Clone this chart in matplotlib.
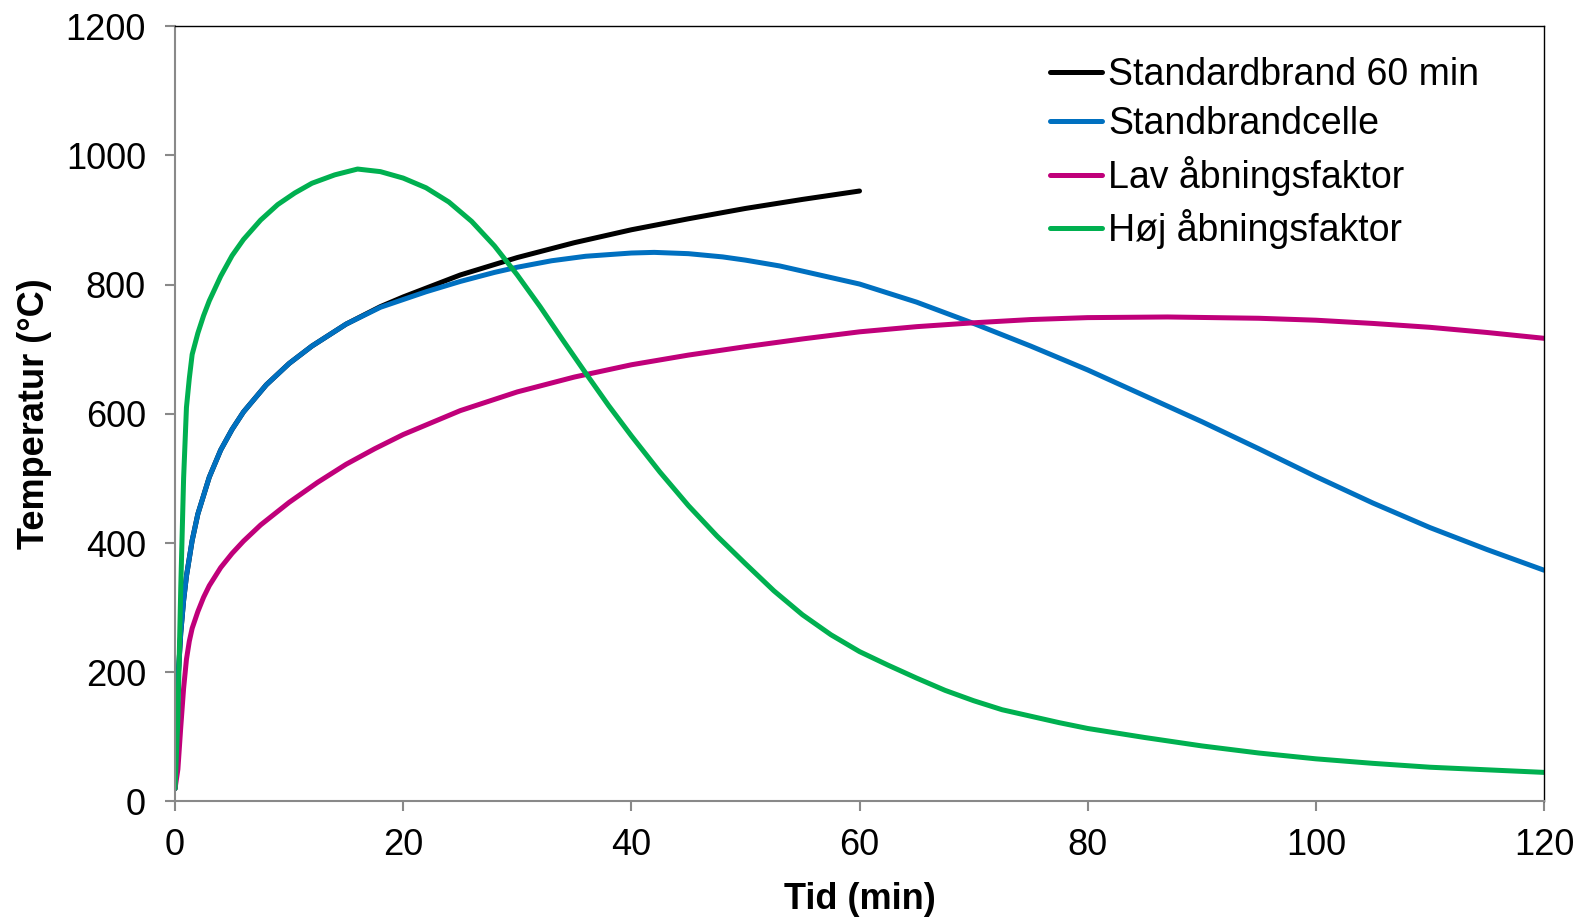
import matplotlib
matplotlib.use("Agg")
import matplotlib.pyplot as plt

plt.rcParams['font.family'] = ['Liberation Sans', 'DejaVu Sans']

# Standardbrand (ISO 834)
t_std = [0, 0.25, 0.5, 0.75, 1, 1.5, 2, 3, 4, 5, 6, 8, 10, 12, 15, 18, 20,
         25, 30, 35, 40, 45, 50, 55, 60]
T_std = [20, 185, 261, 311, 349, 404, 445, 502, 544, 576, 603, 645, 678, 705,
         739, 766, 781, 815, 842, 865, 885, 902, 918, 932, 945]

# Standardbrandcelle
t_cell = [0, 0.25, 0.5, 0.75, 1, 1.5, 2, 3, 4, 5, 6, 8, 10, 12, 15, 18, 20,
          22, 25, 28, 30, 33, 36, 40, 42, 45, 48, 50, 53, 56, 60, 65, 70, 75,
          80, 85, 90, 95, 100, 105, 110, 115, 120]
T_cell = [20, 185, 261, 311, 349, 404, 445, 502, 544, 576, 603, 645, 678, 705,
          739, 765, 777, 789, 805, 819, 827, 837, 844, 849, 850, 848, 843, 838,
          829, 817, 801, 773, 740, 705, 668, 628, 588, 546, 503, 462, 424, 390,
          358]

# Lav åbningsfaktor
t_low = [0, 0.25, 0.5, 0.75, 1, 1.25, 1.5, 2, 2.5, 3, 4, 5, 6, 7.5, 10, 12.5,
         15, 17.5, 20, 25, 30, 35, 40, 45, 50, 55, 60, 65, 70, 75, 80, 87, 95,
         100, 105, 110, 115, 120]
T_low = [20, 50, 115, 175, 220, 248, 268, 294, 316, 334, 362, 384, 403, 428,
         463, 494, 522, 546, 568, 605, 634, 657, 676, 691, 704, 716, 727, 735,
         741, 746, 749, 750, 748, 745, 740, 734, 726, 717]

# Høj åbningsfaktor
t_high = [0, 0.25, 0.5, 0.75, 1, 1.25, 1.5, 2, 2.5, 3, 4, 5, 6, 7.5, 9, 10.5,
          12, 14, 16, 18, 20, 22, 24, 26, 28, 30, 32, 34, 36, 38, 40, 42.5, 45,
          47.5, 50, 52.5, 55, 57.5, 60, 62.5, 65, 67.5, 70, 72.5, 75, 77.5, 80,
          85, 90, 95, 100, 105, 110, 115, 120]
T_high = [20, 130, 330, 500, 610, 655, 692, 725, 752, 775, 813, 845, 870, 900,
          924, 942, 957, 970, 979, 975, 965, 950, 928, 898, 860, 815, 766, 714,
          663, 613, 566, 510, 458, 411, 368, 326, 289, 258, 232, 211, 191, 172,
          156, 142, 132, 122, 113, 99, 86, 75, 66, 59, 53, 49, 45]

labels = ['Standardbrand 60 min', 'Standbrandcelle', 'Lav åbningsfaktor',
          'Høj åbningsfaktor']
colors = ['#000000', '#0070C0', '#C0007A', '#00B050']

fig = plt.figure(figsize=(15.87, 9.19), dpi=100)
ax = fig.add_axes([0.1103, 0.1279, 0.8626, 0.8435])

series = [(t_std, T_std), (t_cell, T_cell), (t_low, T_low), (t_high, T_high)]
for (t, T), lab, col in zip(series, labels, colors):
    ax.plot(t, T, color=col, lw=3.6, label=lab, solid_capstyle='round',
            solid_joinstyle='round')

ax.set_xlim(0, 120)
ax.set_ylim(0, 1200)
ax.set_xticks(range(0, 121, 20))
ax.set_yticks(range(0, 1201, 200))

for side in ['left', 'bottom']:
    ax.spines[side].set_color('#898989')
    ax.spines[side].set_linewidth(1.5)
for side in ['top', 'right']:
    ax.spines[side].set_color('#000000')
    ax.spines[side].set_linewidth(1.0)

ax.tick_params(axis='both', direction='out', length=7, width=1.5,
               color='#898989', labelsize=26)
ax.tick_params(axis='x', pad=12)
ax.tick_params(axis='y', pad=14)

ax.set_xlabel('Tid (min)', fontsize=26, fontweight='bold', labelpad=14)
ax.set_ylabel('Temperatur (°C)', fontsize=26, fontweight='bold', labelpad=10)

ax.legend(loc='upper left', bbox_to_anchor=(0.628, 0.98), frameon=False,
          fontsize=27, handlelength=1.4, handletextpad=0.15,
          labelspacing=0.36, borderaxespad=0)

fig.savefig('out.png', dpi=100)
